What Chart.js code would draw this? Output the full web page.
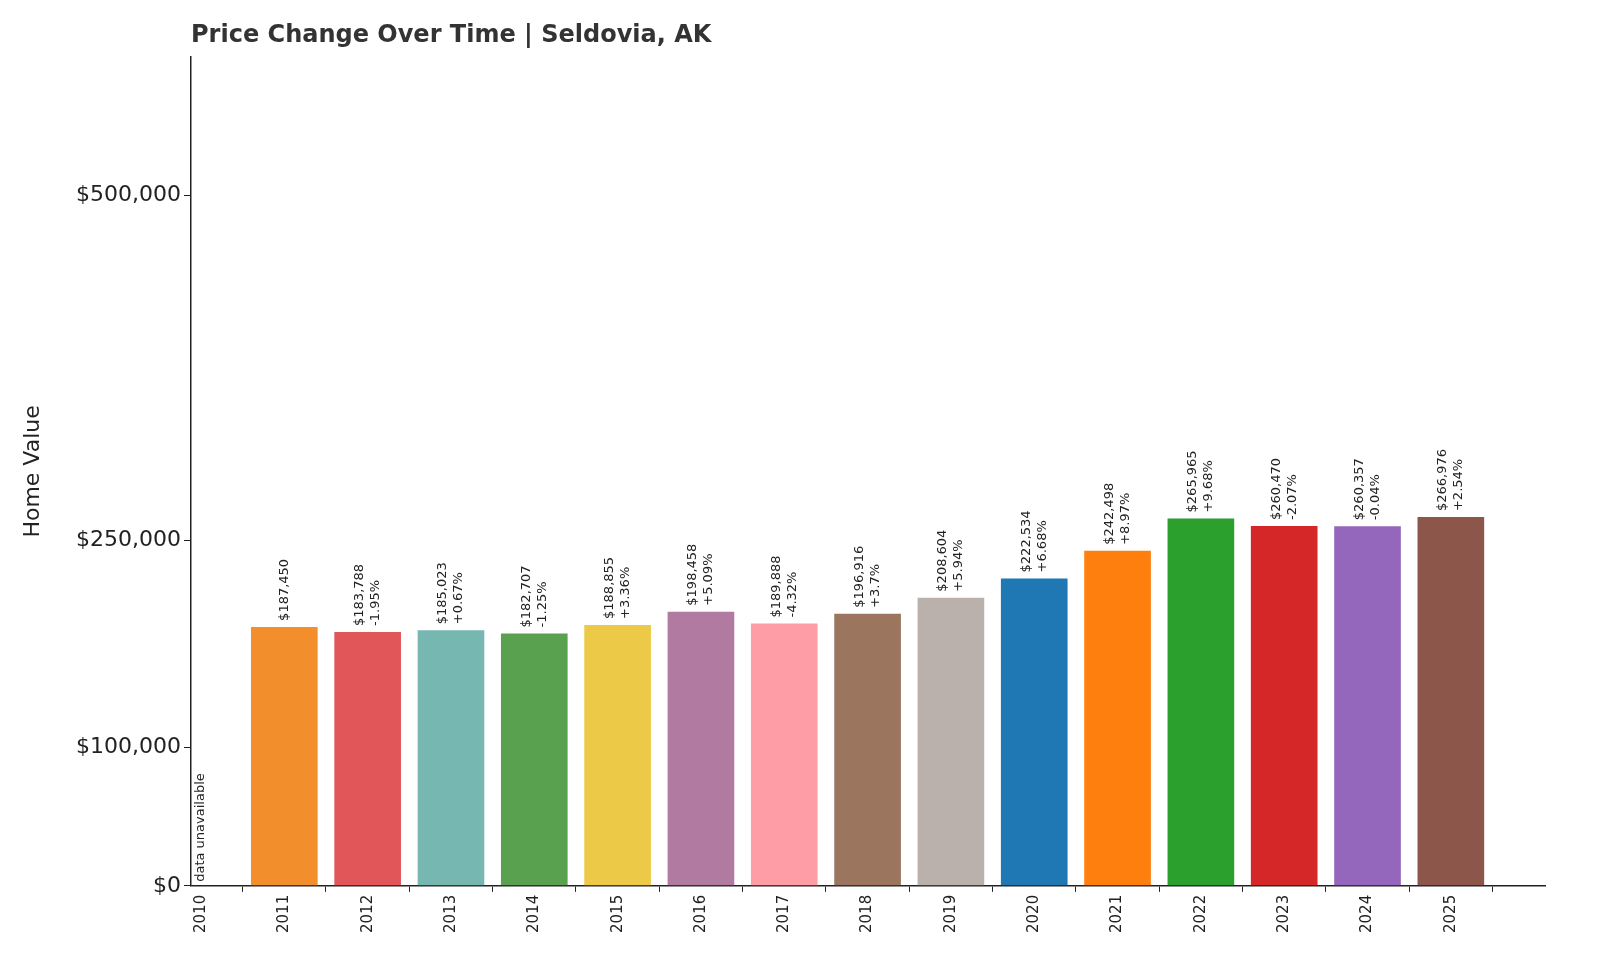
<!DOCTYPE html>
<html>
<head>
<meta charset="utf-8">
<script src="https://cdn.jsdelivr.net/npm/chart.js@4"></script>
<style>
  body { margin: 0; background: #fff; }
  #wrap { width: 1600px; height: 960px; position: relative; }
</style>
</head>
<body>
<div id="wrap"><canvas id="chart"></canvas></div>
<script>
// Datos
const years = [2010, 2011, 2012, 2013, 2014, 2015, 2016, 2017, 2018, 2019, 2020, 2021, 2022, 2023, 2024, 2025];
const values = [null, 187450, 183788, 185023, 182707, 188855, 198458, 189888, 196916, 208604, 222534, 242498, 265965, 260470, 260357, 266976];
const changes = [null, null, "-1.95%", "+0.67%", "-1.25%", "+3.36%", "+5.09%", "-4.32%", "+3.7%", "+5.94%", "+6.68%", "+8.97%", "+9.68%", "-2.07%", "-0.04%", "+2.54%"];
const colors = [null, "#F28E2B", "#E15759", "#76B7B2", "#59A14F", "#EDC948", "#B07AA1", "#FF9DA7", "#9C755F", "#BAB0AC",
                "#1F77B4", "#FF7F0E", "#2CA02C", "#D62728", "#9467BD", "#8C564B"];
const yTicks = [0, 100000, 250000, 500000];
const titulo = 'Price Change Over Time | Seldovia, AK';

const FONT = "'DejaVu Sans', sans-serif";

// etiquetas giradas encima de las barras + título
const barLabels = {
    id: 'barLabels',
    afterDatasetsDraw(chart) {
        const ctx = chart.ctx;
        const xs = chart.scales.x, ys = chart.scales.y;
        ctx.save();
        ctx.fillStyle = '#333';
        ctx.font = 'bold 24px ' + FONT;
        ctx.textAlign = 'left';
        ctx.textBaseline = 'middle';
        ctx.fillText(titulo, chart.chartArea.left, 36);

        ctx.fillStyle = '#222';
        ctx.font = '13px ' + FONT;
        years.forEach((yr, i) => {
            const x = xs.getPixelForValue(yr);
            if (values[i] == null) {
                ctx.save();
                ctx.translate(x, ys.getPixelForValue(0) - 4);
                ctx.rotate(-Math.PI / 2);
                ctx.fillText("data unavailable", 0, 0);
                ctx.restore();
                return;
            }
            const top = ys.getPixelForValue(values[i]) - 6;
            const v = "$" + values[i].toLocaleString("en-US");
            ctx.save();
            ctx.translate(x, top);
            ctx.rotate(-Math.PI / 2);
            if (changes[i]) {
                ctx.fillText(v, 0, -8);
                ctx.fillText(changes[i], 0, 8);
            } else {
                ctx.fillText(v, 0, 0);
            }
            ctx.restore();
        });
        ctx.restore();
    }
};

window.onload = () => {
    const ctx = document.getElementById('chart').getContext('2d');
    new Chart(ctx, {
        type: 'bar',
        data: {
            datasets: [{
                data: years.map((y, i) => ({ x: y, y: values[i] })),
                backgroundColor: colors,
                barPercentage: 0.8,
                categoryPercentage: 1.0
            }]
        },
        options: {
            responsive: true,
            maintainAspectRatio: false,
            animation: false,
            layout: { padding: { top: 57, right: 55, left: 0, bottom: 24 } },
            scales: {
                x: {
                    type: 'linear',
                    min: 2009.88, max: 2026.13,
                    offset: false,
                    grid: { display: true, drawOnChartArea: false, drawTicks: true, tickLength: 6, tickColor: '#222' },
                    border: { color: '#222', width: 1.5 },
                    afterBuildTicks: (s) => { s.ticks = years.map(v => ({ value: v })); },
                    ticks: {
                        color: '#222', font: { size: 15, family: FONT },
                        maxRotation: 90, minRotation: 90, autoSkip: false,
                        callback: v => String(v)
                    }
                },
                y: {
                    min: 0, max: 600000,
                    afterBuildTicks: (s) => { s.ticks = yTicks.map(v => ({ value: v })); },
                    afterFit: (s) => { s.width = 191; },
                    grid: { display: true, drawOnChartArea: false, drawTicks: true, tickLength: 7, tickColor: '#222' },
                    border: { color: '#222', width: 1.5 },
                    ticks: {
                        color: '#222', font: { size: 22, family: FONT },
                        callback: v => "$" + v.toLocaleString("en-US")
                    },
                    title: { display: true, text: 'Home Value', color: '#222', font: { size: 22, family: FONT }, padding: { top: 20 } }
                }
            },
            plugins: {
                legend: { display: false },
                tooltip: { enabled: false },
                title: { display: false }
            }
        },
        plugins: [barLabels]
    });
};
</script>
</body>
</html>
